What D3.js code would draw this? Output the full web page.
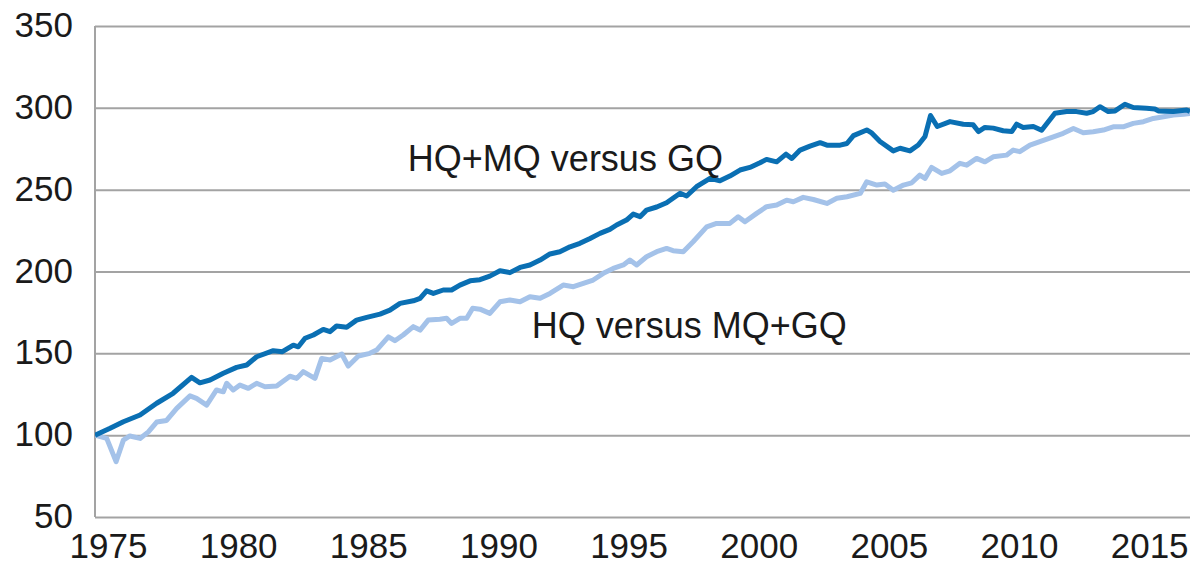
<!DOCTYPE html>
<html>
<head>
<meta charset="utf-8">
<script src="https://cdn.jsdelivr.net/npm/d3@7"></script>
<style>
  html, body { margin: 0; padding: 0; background: #fff; }
  svg { display: block; font-family: "Liberation Sans", Arial, sans-serif; }
</style>
</head>
<body>
<div id="plot"></div>
<script>
// values: [year, index]
const hqmqVsGq = [
  [1975.0, 100], [1975.58, 104.2], [1976.09, 108.2], [1976.73, 112.3], [1977.37, 119.5],
  [1978.0, 125.6], [1978.71, 135.3], [1979.03, 132], [1979.42, 133.7], [1979.93, 137.8],
  [1980.44, 141.4], [1980.83, 142.9], [1981.21, 147.9], [1981.85, 151.6], [1982.2, 151],
  [1982.62, 155], [1982.81, 154], [1983.07, 159.2], [1983.39, 161.2], [1983.77, 164.6],
  [1984.03, 163.2], [1984.28, 166.7], [1984.67, 165.9], [1985.05, 170.3], [1985.44, 172],
  [1985.95, 174], [1986.33, 176.4], [1986.72, 180.5], [1987.23, 182.1], [1987.49, 183.6],
  [1987.74, 188.2], [1988.0, 186.6], [1988.38, 188.7], [1988.7, 188.7], [1989.02, 191.7],
  [1989.41, 194.3], [1989.79, 195], [1990.17, 197.2], [1990.56, 200.5], [1990.94, 199.3],
  [1991.33, 202.5], [1991.71, 204], [1992.1, 207], [1992.48, 210.7], [1992.86, 212.1],
  [1993.25, 215.1], [1993.63, 217.2], [1994.02, 220.2], [1994.4, 223.3], [1994.78, 225.7],
  [1995.04, 228.4], [1995.42, 231.4], [1995.68, 235.1], [1995.94, 233.5], [1996.19, 237.5],
  [1996.58, 239.4], [1996.96, 242], [1997.48, 247.8], [1997.73, 246.1], [1998.11, 251.8],
  [1998.63, 256.9], [1999.01, 255.4], [1999.39, 258.3], [1999.78, 262], [2000.16, 263.6],
  [2000.55, 266.4], [2000.8, 268.5], [2001.19, 267], [2001.55, 271.7], [2001.77, 269.1],
  [2002.09, 274.2], [2002.47, 276.6], [2002.86, 278.7], [2003.12, 277.2], [2003.63, 277.2],
  [2003.89, 278.2], [2004.14, 283], [2004.65, 286.5], [2004.85, 284.5], [2005.16, 279.4],
  [2005.67, 273.7], [2005.93, 275.3], [2006.31, 273.7], [2006.63, 277.3], [2006.89, 282.5],
  [2007.1, 295.3], [2007.36, 288.6], [2007.85, 291.6], [2008.36, 290], [2008.74, 289.6],
  [2008.94, 285.5], [2009.19, 288], [2009.51, 287.6], [2009.89, 286], [2010.22, 285.5],
  [2010.41, 290], [2010.66, 288], [2011.05, 288.6], [2011.37, 286.3], [2011.88, 296.7],
  [2012.33, 297.7], [2012.71, 297.7], [2013.1, 296.7], [2013.35, 297.7], [2013.61, 300.7],
  [2013.93, 297.7], [2014.19, 298.1], [2014.57, 302.2], [2014.89, 300.2], [2015.4, 299.7],
  [2015.72, 299.3], [2015.85, 298.1], [2016.43, 297.7], [2016.94, 298.7], [2017.07, 297.7]
];

const hqVsMqgq = [
  [1975.0, 100], [1975.45, 98], [1975.81, 83.8], [1976.09, 97], [1976.34, 99.5],
  [1976.73, 98], [1977.05, 102], [1977.37, 108], [1977.75, 109], [1978.14, 116.4],
  [1978.65, 124], [1978.9, 122.5], [1979.29, 118.4], [1979.67, 127.6], [1979.93, 126.5],
  [1980.06, 131.7], [1980.31, 127.6], [1980.57, 130.6], [1980.89, 128.6], [1981.21, 131.7],
  [1981.53, 129.6], [1981.98, 130], [1982.49, 136], [1982.75, 134.7], [1983.0, 138.8],
  [1983.45, 134.7], [1983.71, 146.9], [1984.03, 145.9], [1984.48, 149.6], [1984.73, 142.2],
  [1985.12, 148.4], [1985.56, 150], [1985.82, 152], [1986.27, 160.1], [1986.52, 157.7],
  [1986.84, 161.2], [1987.23, 166.3], [1987.49, 164.2], [1987.8, 170.3], [1988.25, 170.8],
  [1988.51, 171.4], [1988.7, 168.3], [1989.02, 171.4], [1989.28, 171.4], [1989.51, 177.5],
  [1989.79, 177], [1990.17, 174.4], [1990.56, 181.5], [1990.94, 182.6], [1991.33, 181.5],
  [1991.71, 184.6], [1992.1, 183.6], [1992.48, 186.6], [1992.99, 191.7], [1993.38, 190.7],
  [1993.76, 192.8], [1994.14, 194.8], [1994.53, 198.9], [1994.91, 201.9], [1995.3, 204],
  [1995.55, 207], [1995.81, 204], [1996.19, 209], [1996.58, 212.1], [1996.96, 214.1],
  [1997.21, 212.7], [1997.6, 212.1], [1997.98, 218.2], [1998.5, 227.3], [1998.88, 229.4],
  [1999.39, 229.4], [1999.71, 233.4], [1999.97, 230.4], [2000.42, 235.5], [2000.8, 239.6],
  [2001.19, 240.6], [2001.57, 243.6], [2001.83, 242.6], [2002.21, 245.3], [2002.6, 244],
  [2003.12, 241.6], [2003.5, 244.7], [2003.89, 245.7], [2004.4, 247.7], [2004.65, 254.8],
  [2005.04, 252.8], [2005.35, 253.4], [2005.67, 249.7], [2006.06, 252.8], [2006.38, 254.2],
  [2006.69, 258.9], [2006.89, 256.9], [2007.14, 263.6], [2007.53, 259.9], [2007.85, 261.5],
  [2008.23, 266.1], [2008.49, 265], [2008.87, 269.1], [2009.19, 267], [2009.51, 270.1],
  [2010.02, 271.1], [2010.28, 274.2], [2010.53, 273.2], [2010.92, 277.2], [2011.3, 279.3],
  [2011.82, 282.3], [2012.2, 284.4], [2012.59, 287.4], [2012.97, 284.8], [2013.35, 285.4],
  [2013.74, 286.4], [2014.12, 288.4], [2014.5, 288.4], [2014.89, 290.5], [2015.28, 291.5],
  [2015.66, 293.5], [2016.05, 294.5], [2016.43, 295.6], [2016.82, 296], [2017.07, 296.6]
];

const yTicks = [50, 100, 150, 200, 250, 300, 350];
const xTickYears = [1975, 1980, 1985, 1990, 1995, 2000, 2005, 2010, 2015];

const labels = [
  { text: "HQ+MQ versus GQ", year: 1987.02, value: 261.4 },
  { text: "HQ versus MQ+GQ", year: 1991.78, value: 159.3 }
];

const width = 1190;
const height = 566;
const marginLeft = 95;
const marginTop = 26;
const marginBottom = 49;

const x = d3.scaleLinear()
    .domain([1975, 2017.07])
    .range([marginLeft, width]);

const y = d3.scaleLinear()
    .domain([50, 350])
    .range([height - marginBottom, marginTop]);

const svg = d3.create("svg")
    .attr("width", width)
    .attr("height", height)
    .attr("viewBox", [0, 0, width, height]);

svg.append("defs").append("clipPath")
    .attr("id", "plotclip")
    .append("rect")
    .attr("x", marginLeft)
    .attr("y", 0)
    .attr("width", width - marginLeft)
    .attr("height", height);

// gridlines + y labels
svg.append("g")
    .attr("transform", `translate(${marginLeft},0)`)
    .call(d3.axisLeft(y).tickValues(yTicks).tickSize(-(width - marginLeft)).tickPadding(22))
    .call(g => g.select(".domain").remove())
    .call(g => g.selectAll(".tick line")
        .attr("stroke", "#a3a3a3")
        .attr("stroke-width", 2))
    .call(g => g.selectAll(".tick text")
        .attr("fill", "#1a1a1a")
        .attr("font-size", 35)
        .attr("font-family", "Liberation Sans, Arial, sans-serif")
        .attr("dy", "0.3em"));

// left axis line
svg.append("line")
    .attr("x1", marginLeft).attr("x2", marginLeft)
    .attr("y1", y(350)).attr("y2", y(50))
    .attr("stroke", "#a3a3a3")
    .attr("stroke-width", 2);

// x labels, centred in each year
svg.append("g")
    .attr("transform", `translate(0,${height - marginBottom})`)
    .call(d3.axisBottom(x).tickValues(xTickYears.map(d => d + 0.5)).tickFormat(d => Math.floor(d)).tickSize(0).tickPadding(16))
    .call(g => g.select(".domain").remove())
    .call(g => g.selectAll(".tick text")
        .attr("fill", "#1a1a1a")
        .attr("font-size", 35)
        .attr("font-family", "Liberation Sans, Arial, sans-serif"));

const line = d3.line()
    .x(d => x(d[0]))
    .y(d => y(d[1]));

const lines = svg.append("g").attr("clip-path", "url(#plotclip)");

lines.append("path")
    .datum(hqVsMqgq)
    .attr("fill", "none")
    .attr("stroke", "#a4c2e9")
    .attr("stroke-width", 5)
    .attr("stroke-linejoin", "round")
    .attr("d", line);

lines.append("path")
    .datum(hqmqVsGq)
    .attr("fill", "none")
    .attr("stroke", "#0a6fb3")
    .attr("stroke-width", 5)
    .attr("stroke-linejoin", "round")
    .attr("d", line);

svg.selectAll(".series-label")
    .data(labels)
    .enter()
    .append("text")
    .attr("class", "series-label")
    .attr("x", d => x(d.year))
    .attr("y", d => y(d.value))
    .attr("fill", "#1a1a1a")
    .attr("font-size", 36)
    .text(d => d.text);

document.getElementById("plot").appendChild(svg.node());
</script>
</body>
</html>
